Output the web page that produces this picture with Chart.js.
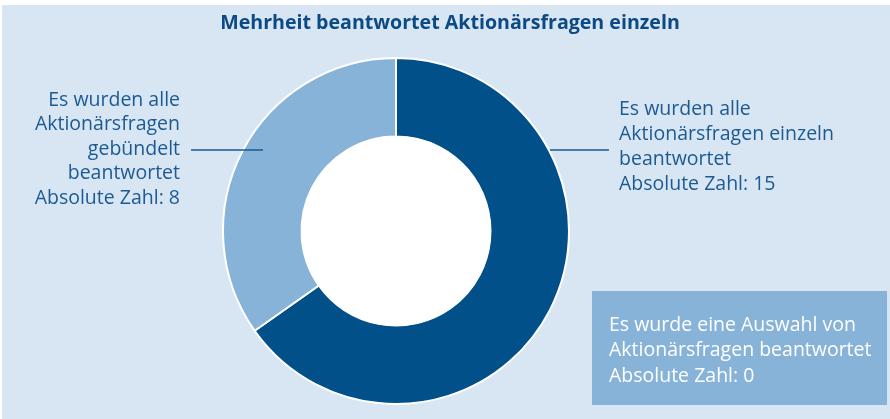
<!DOCTYPE html>
<html><head><meta charset="utf-8">
<script src="https://cdn.jsdelivr.net/npm/chart.js@4"></script>
<style>html,body{margin:0;padding:0;background:#fff;}</style>
</head><body>
<canvas id="c" width="890" height="419" style="display:block;width:890px;height:419px"></canvas>
<script>
const chartTitle = "Mehrheit beantwortet Aktionärsfragen einzeln";
const categories = [
  "Es wurden alle Aktionärsfragen einzeln beantwortet",
  "Es wurden alle Aktionärsfragen gebündelt beantwortet",
  "Es wurde eine Auswahl von Aktionärsfragen beantwortet"
];
const values = [15, 8, 0];
const labelLines = [
  ["Es wurden alle", "Aktionärsfragen einzeln", "beantwortet"],
  ["Es wurden alle", "Aktionärsfragen", "gebündelt", "beantwortet"],
  ["Es wurde eine Auswahl von", "Aktionärsfragen beantwortet"]
];
const absPrefix = "Absolute Zahl: ";

const DARK = "#02508a", LIGHT = "#88b3d9", BG = "#d8e5f2", TXT = "#1c5a93", TITLE = "#0b4a84";
const FONT = '"Open Sans", sans-serif';

const deco = {
  id: 'deco',
  beforeDraw(chart) {
    const ctx = chart.ctx;
    ctx.save();
    ctx.fillStyle = '#ffffff';
    ctx.fillRect(0, 0, chart.width, chart.height);
    ctx.fillStyle = BG;
    ctx.fillRect(2, 5, chart.width - 2, chart.height - 5);
    ctx.restore();
  },
  afterDatasetsDraw(chart) {
    const ctx = chart.ctx;
    const meta = chart.getDatasetMeta(0);
    const arc = meta.data[0];
    const cx = arc.x, cy = arc.y;
    ctx.save();
    ctx.fillStyle = '#ffffff';
    ctx.beginPath();
    ctx.arc(cx, cy, arc.innerRadius + 0.5, 0, Math.PI * 2);
    ctx.fill();

    // title
    ctx.fillStyle = TITLE;
    ctx.font = 'bold 19.6px ' + FONT;
    ctx.textAlign = 'center';
    ctx.textBaseline = 'middle';
    ctx.fillText(chartTitle, 450, 23);

    // leader lines
    ctx.strokeStyle = TXT;
    ctx.lineWidth = 1.5;
    ctx.beginPath();
    ctx.moveTo(191, 150); ctx.lineTo(263, 150);
    ctx.moveTo(550, 150); ctx.lineTo(609, 150);
    ctx.stroke();

    ctx.font = '19.5px ' + FONT;
    ctx.fillStyle = TXT;
    // right label (series 0)
    ctx.textAlign = 'left';
    const r = labelLines[0].concat([absPrefix + values[0]]);
    r.forEach((t, i) => ctx.fillText(t, 619, 109 + i * 25.3));
    // left label (series 1)
    ctx.textAlign = 'right';
    const l = labelLines[1].concat([absPrefix + values[1]]);
    l.forEach((t, i) => ctx.fillText(t, 180, 100 + i * 24.6));

    // box (series 2)
    ctx.fillStyle = LIGHT;
    ctx.fillRect(592, 291, 295, 114);
    ctx.fillStyle = '#ffffff';
    ctx.textAlign = 'left';
    const b = labelLines[2].concat([absPrefix + values[2]]);
    b.forEach((t, i) => ctx.fillText(t, 609, 325 + i * 25.5));
    ctx.restore();
  }
};

new Chart(document.getElementById('c'), {
  type: 'doughnut',
  data: {
    labels: categories,
    datasets: [{
      data: values,
      backgroundColor: [DARK, LIGHT, 'rgba(0,0,0,0)'],
      borderColor: '#ffffff',
      borderWidth: [2, 2, 0]
    }]
  },
  options: {
    responsive: false,
    animation: false,
    cutout: '54.6%',
    layout: { padding: { top: 56, bottom: 13, left: 222, right: 320 } },
    plugins: { legend: { display: false }, tooltip: { enabled: false }, title: { display: false } }
  },
  plugins: [deco]
});
</script>
</body></html>
